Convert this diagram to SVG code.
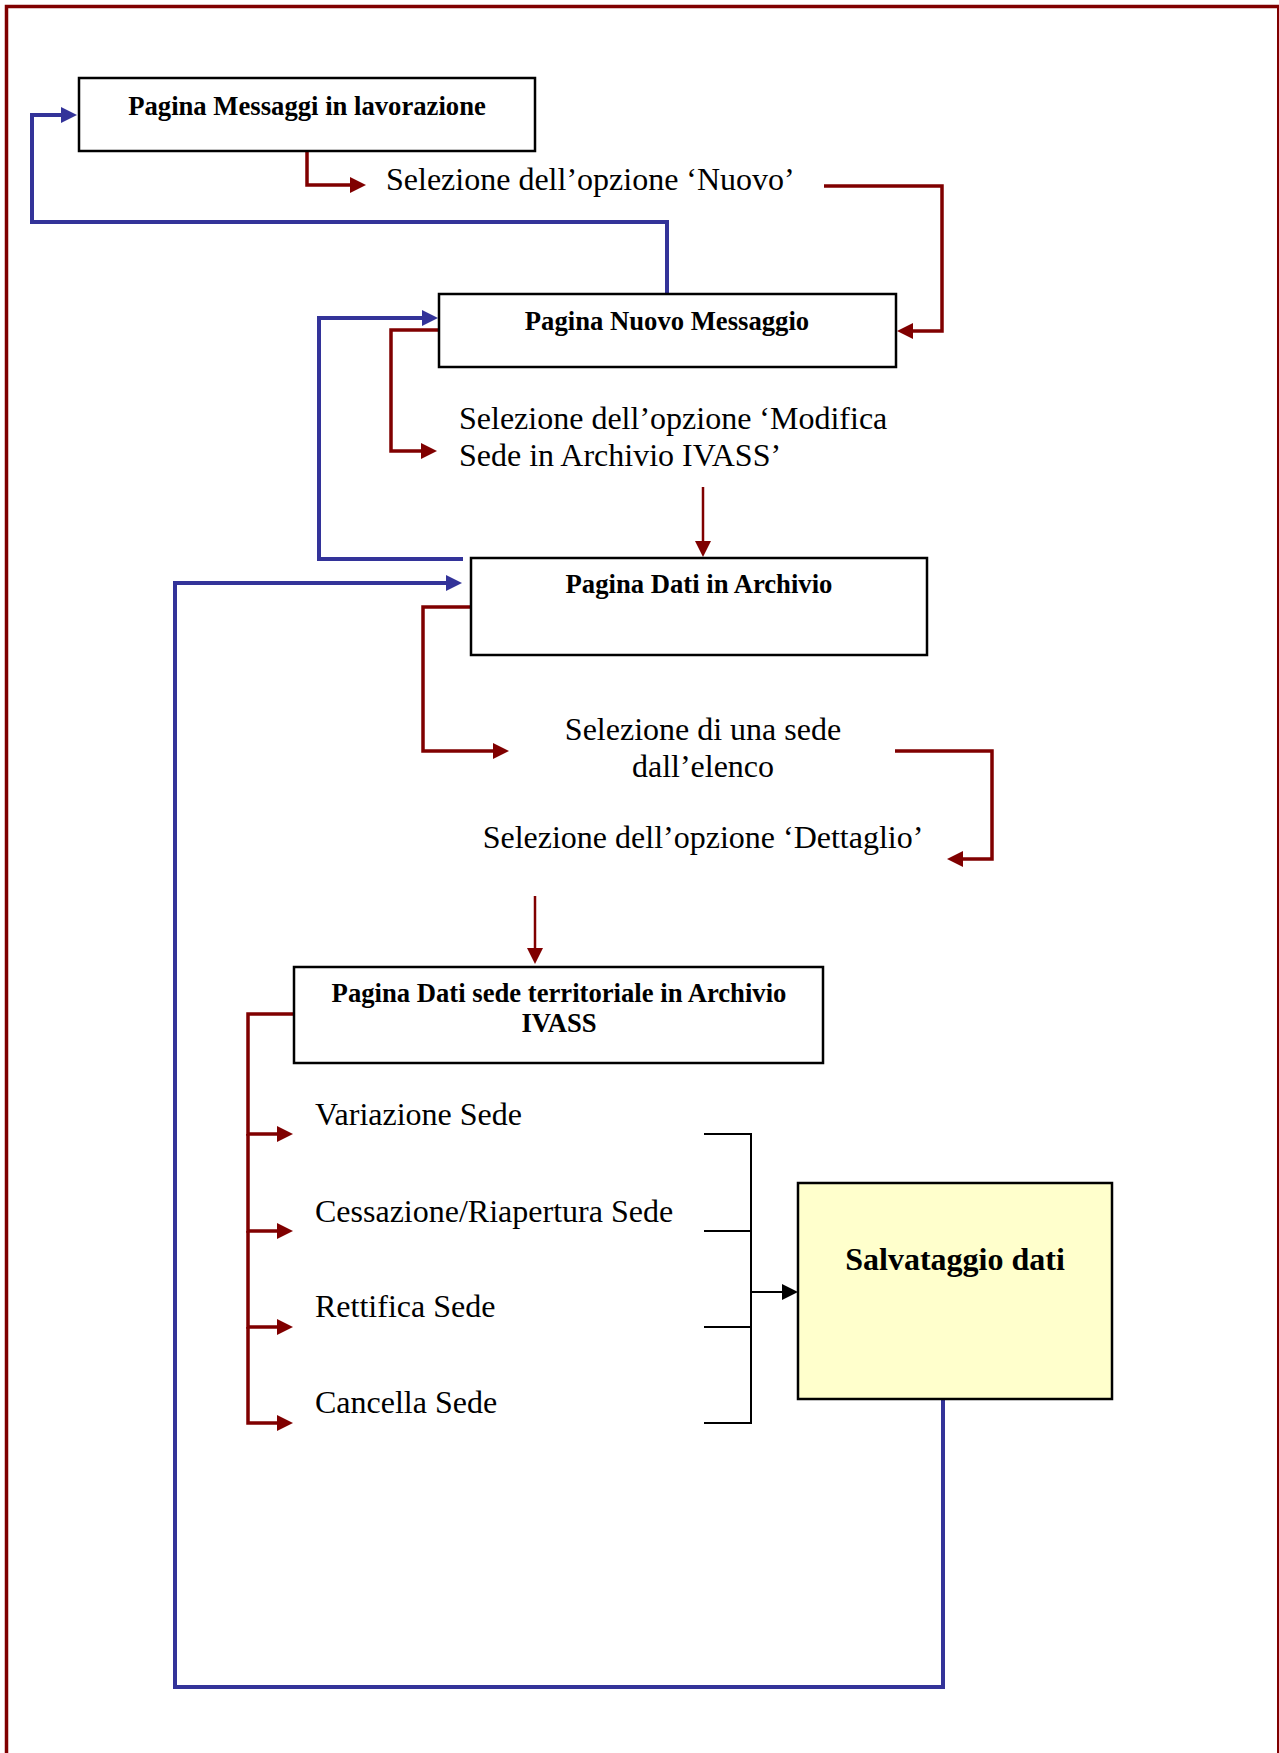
<svg xmlns="http://www.w3.org/2000/svg" width="1279" height="1753" viewBox="0 0 1279 1753">
<style>
  .box { fill: #ffffff; stroke: #000000; stroke-width: 2.5; }
  .save { fill: #ffffcc; stroke: #000000; stroke-width: 2.5; }
  .hb { font-family: "Liberation Serif", "Times New Roman", serif; font-weight: bold; font-size: 26.67px; fill: #000; text-anchor: middle; }
  .hs { font-family: "Liberation Serif", "Times New Roman", serif; font-weight: bold; font-size: 32px; fill: #000; text-anchor: middle; }
  .t { font-family: "Liberation Serif", "Times New Roman", serif; font-size: 32px; fill: #000; }
  .tc { font-family: "Liberation Serif", "Times New Roman", serif; font-size: 32px; fill: #000; text-anchor: middle; }
  .red { fill: none; stroke: #800000; stroke-width: 3.5; }
  .redthin { fill: none; stroke: #800000; stroke-width: 2.5; }
  .blue { fill: none; stroke: #333399; stroke-width: 4; }
  .black { fill: none; stroke: #000000; stroke-width: 2; }
</style>
<defs>
  <marker id="ar" markerUnits="userSpaceOnUse" markerWidth="17" markerHeight="17" refX="1" refY="8" orient="auto" viewBox="0 0 17 17">
    <path d="M0,0 L16,8 L0,16 z" fill="#800000"/>
  </marker>
  <marker id="ab" markerUnits="userSpaceOnUse" markerWidth="17" markerHeight="17" refX="1" refY="8" orient="auto" viewBox="0 0 17 17">
    <path d="M0,0 L16,8 L0,16 z" fill="#333399"/>
  </marker>
  <marker id="ak" markerUnits="userSpaceOnUse" markerWidth="17" markerHeight="17" refX="1" refY="8" orient="auto" viewBox="0 0 17 17">
    <path d="M0,0 L16,8 L0,16 z" fill="#000000"/>
  </marker>
</defs>

<g id="border">
  <path d="M6.5,1753 V6.5 H1279" fill="none" stroke="#800000" stroke-width="3.5"/>
  <line x1="1278" y1="6" x2="1278" y2="1753" stroke="#800000" stroke-width="2"/>
</g>

<g id="connectors">
  <path class="red" d="M307,151 V185 H351" marker-end="url(#ar)"/>
  <path class="red" d="M824,186 H942 V331 H912" marker-end="url(#ar)"/>
  <path class="red" d="M439,330 H391 V451 H422" marker-end="url(#ar)"/>
  <path class="redthin" d="M703,487 V542" marker-end="url(#ar)"/>
  <path class="red" d="M471,607 H423 V751 H494" marker-end="url(#ar)"/>
  <path class="red" d="M895,751 H992 V859 H962" marker-end="url(#ar)"/>
  <path class="redthin" d="M535,896 V949" marker-end="url(#ar)"/>
  <path class="red" d="M294,1014 H248 V1134 H278" marker-end="url(#ar)"/>
  <path class="red" d="M248,1134 V1231 H278" marker-end="url(#ar)"/>
  <path class="red" d="M248,1231 V1327 H278" marker-end="url(#ar)"/>
  <path class="red" d="M248,1327 V1423 H278" marker-end="url(#ar)"/>
  <path class="blue" d="M667,294 V222 H32 V115 H62" marker-end="url(#ab)"/>
  <path class="blue" d="M463,559 H319 V318 H423" marker-end="url(#ab)"/>
  <path class="blue" d="M943,1399 V1687 H175 V583 H447" marker-end="url(#ab)"/>
  <path class="black" d="M704,1134 H751 V1423 H704 M704,1231 H751 M704,1327 H751"/>
  <path class="black" d="M751,1292 H783" marker-end="url(#ak)"/>
</g>

<g id="node-messaggi">
  <rect class="box" x="79" y="78" width="456" height="73"/>
  <text class="hb" x="307" y="115">Pagina Messaggi in lavorazione</text>
</g>
<g id="label-nuovo">
  <text class="t" x="386" y="190">Selezione dell’opzione ‘Nuovo’</text>
</g>
<g id="node-nuovo-messaggio">
  <rect class="box" x="439" y="294" width="457" height="73"/>
  <text class="hb" x="667" y="330">Pagina Nuovo Messaggio</text>
</g>
<g id="label-modifica">
  <text class="t" x="459" y="429">Selezione dell’opzione ‘Modifica</text>
  <text class="t" x="459" y="466">Sede in Archivio IVASS’</text>
</g>
<g id="node-dati-archivio">
  <rect class="box" x="471" y="558" width="456" height="97"/>
  <text class="hb" x="699" y="593">Pagina Dati in Archivio</text>
</g>
<g id="label-sede">
  <text class="tc" x="703" y="740">Selezione di una sede</text>
  <text class="tc" x="703" y="777">dall’elenco</text>
</g>
<g id="label-dettaglio">
  <text class="tc" x="703" y="848">Selezione dell’opzione ‘Dettaglio’</text>
</g>
<g id="node-dati-sede">
  <rect class="box" x="294" y="967" width="529" height="96"/>
  <text class="hb" x="559" y="1002">Pagina Dati sede territoriale in Archivio</text>
  <text class="hb" x="559" y="1032">IVASS</text>
</g>
<g id="options">
  <text class="t" x="315" y="1125">Variazione Sede</text>
  <text class="t" x="315" y="1222">Cessazione/Riapertura Sede</text>
  <text class="t" x="315" y="1317">Rettifica Sede</text>
  <text class="t" x="315" y="1413">Cancella Sede</text>
</g>
<g id="node-salvataggio">
  <rect class="save" x="798" y="1183" width="314" height="216"/>
  <text class="hs" x="955" y="1270">Salvataggio dati</text>
</g>
</svg>
